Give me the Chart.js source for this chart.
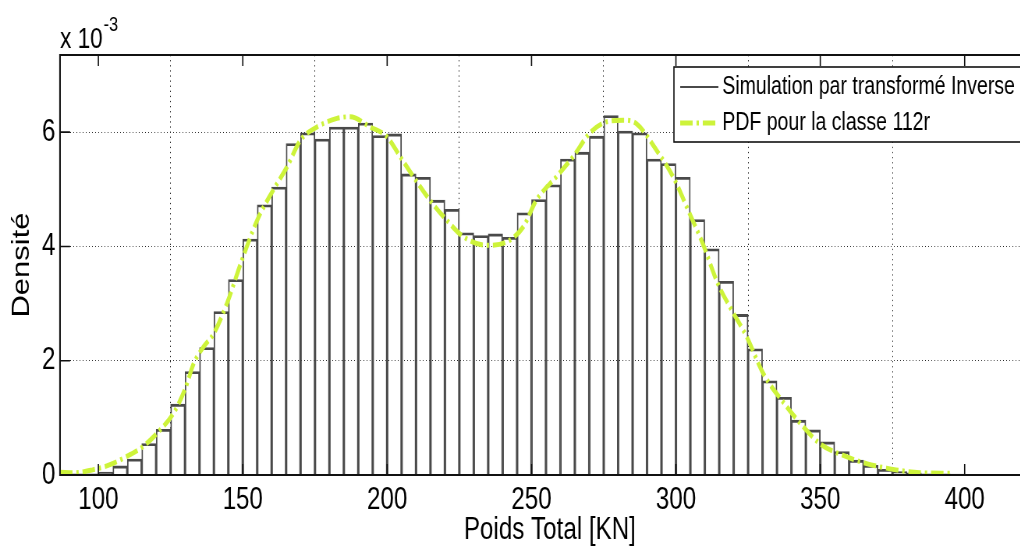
<!DOCTYPE html>
<html>
<head>
<meta charset="utf-8">
<script src="https://cdn.jsdelivr.net/npm/chart.js@4/dist/chart.umd.min.js"></script>
<style>
  html, body { margin: 0; padding: 0; background: #fff; overflow: hidden; }
  /* figure is drawn on a wider canvas, then squeezed horizontally */
  #wrap { width: 1345px; height: 554px; transform: scaleX(0.78); transform-origin: 0 0; }
</style>
</head>
<body>
<div id="wrap"><canvas id="histChart" width="1345" height="554"></canvas></div>
<script>
// histogram bins (centre of each 5 kN class) and simulated density, in units of 1e-3
const binCenters = [
  87.5, 92.5, 97.5, 102.5, 107.5, 112.5, 117.5, 122.5, 127.5, 132.5,
  137.5, 142.5, 147.5, 152.5, 157.5, 162.5, 167.5, 172.5, 177.5, 182.5,
  187.5, 192.5, 197.5, 202.5, 207.5, 212.5, 217.5, 222.5, 227.5, 232.5,
  237.5, 242.5, 247.5, 252.5, 257.5, 262.5, 267.5, 272.5, 277.5, 282.5,
  287.5, 292.5, 297.5, 302.5, 307.5, 312.5, 317.5, 322.5, 327.5, 332.5,
  337.5, 342.5, 347.5, 352.5, 357.5, 362.5, 367.5, 372.5, 377.5, 382.5,
  387.5, 392.5, 397.5, 402.5, 407.5, 412.5, 417.5, 422.5
];
const simDensity = [
  0.01, 0.02, 0.02, 0.05, 0.16, 0.28, 0.55, 0.80, 1.24, 1.81,
  2.23, 2.86, 3.42, 4.13, 4.73, 5.04, 5.80, 5.99, 5.88, 6.09,
  6.09, 6.16, 5.94, 5.97, 5.27, 5.21, 4.81, 4.65, 4.24, 4.19,
  4.22, 4.16, 4.59, 4.82, 5.08, 5.53, 5.65, 5.93, 6.29, 6.02,
  5.99, 5.53, 5.45, 5.21, 4.47, 3.96, 3.39, 2.81, 2.21, 1.65,
  1.36, 0.96, 0.79, 0.58, 0.41, 0.26, 0.17, 0.10, 0.06, 0.04,
  0.02, 0.02, 0.015, 0.01, 0.01, 0.005, 0.01, 0.01
];

// theoretical pdf of class 112r (x in kN, density in 1e-3)
const pdfX = [
  86.7, 92, 98, 104, 110, 115.5, 121.4, 126, 130, 133,
  136.5, 140, 144.5, 149.7, 155, 160.6, 165.3, 170, 175.7, 182.6,
  187.2, 194.1, 199.9, 204.5, 209.1, 214.8, 220.6, 226.4, 234.4, 241.4,
  247.1, 251.7, 258.6, 264.4, 270.1, 275.9, 281.7, 286.3, 293.2, 299,
  304.7, 309.3, 314.5, 318.7, 324.5, 330.2, 338.3, 344, 349.8, 359.1,
  366, 372.9, 384.4, 395
];
const pdfY = [
  0.05, 0.04, 0.09, 0.18, 0.33, 0.50, 0.79, 1.08, 1.50, 1.95,
  2.25, 2.48, 3.00, 3.76, 4.46, 4.99, 5.39, 5.86, 6.09, 6.24,
  6.27, 6.09, 5.92, 5.57, 5.22, 4.81, 4.46, 4.17, 4.02, 4.08,
  4.34, 4.81, 5.22, 5.57, 5.98, 6.18, 6.21, 6.15, 5.69, 5.22,
  4.58, 4.05, 3.35, 2.94, 2.42, 1.78, 1.20, 0.85, 0.55, 0.32,
  0.20, 0.12, 0.04, 0.03
];

const xTicks = [100, 150, 200, 250, 300, 350, 400];
const yTicks = [0, 2, 4, 6];

const FONT = 'Liberation Sans, Arial, Helvetica, sans-serif';
const PDF_COLOR = '#cdf33a';
const BAR_COLOR = '#4a4a4a';
const PDF_DASH = [16, 5, 3, 5];

// box, inward ticks, exponent and legend (MATLAB style)
const matlabFrame = {
  id: 'matlabFrame',
  afterDatasetsDraw(chart) {
    const { ctx, chartArea: a, scales: { x, y } } = chart;
    ctx.save();
    ctx.strokeStyle = '#111';
    ctx.lineWidth = 1.6;
    ctx.beginPath();
    xTicks.forEach(v => {
      const px = x.getPixelForValue(v);
      ctx.moveTo(px, a.bottom); ctx.lineTo(px, a.bottom - 11);
      ctx.moveTo(px, a.top); ctx.lineTo(px, a.top + 11);
    });
    yTicks.forEach(v => {
      const py = y.getPixelForValue(v);
      ctx.moveTo(a.left, py); ctx.lineTo(a.left + 13, py);
      ctx.moveTo(a.right, py); ctx.lineTo(a.right - 13, py);
    });
    ctx.stroke();
    ctx.lineWidth = 2;
    ctx.strokeRect(a.left, a.top, a.right - a.left, a.bottom - a.top);

    // scale factor above the y axis
    ctx.fillStyle = '#000';
    ctx.textBaseline = 'alphabetic';
    ctx.textAlign = 'left';
    ctx.font = '29px ' + FONT;
    ctx.fillText('x 10', a.left, 48);
    const w = ctx.measureText('x 10').width;
    ctx.font = '21px ' + FONT;
    ctx.fillText('-3', a.left + w + 1, 31);

    // legend, tucked into the upper right corner
    const lx = 864, ly = 67, lw = a.right - 15 - lx, lh = 75;
    ctx.fillStyle = '#fff';
    ctx.fillRect(lx, ly, lw, lh);
    ctx.lineWidth = 1.6;
    ctx.strokeStyle = '#111';
    ctx.strokeRect(lx, ly, lw, lh);
    const ds = chart.data.datasets;
    const rows = [
      { label: ds[0].label, color: BAR_COLOR, width: 1.8, dash: [], y: 87 },
      { label: ds[1].label, color: PDF_COLOR, width: 5, dash: PDF_DASH, y: 123 }
    ];
    rows.forEach(r => {
      ctx.beginPath();
      ctx.strokeStyle = r.color;
      ctx.lineWidth = r.width;
      ctx.setLineDash(r.dash);
      ctx.moveTo(872, r.y);
      ctx.lineTo(921, r.y);
      ctx.stroke();
      ctx.setLineDash([]);
      ctx.fillStyle = '#000';
      ctx.font = '25px ' + FONT;
      ctx.textBaseline = 'middle';
      ctx.fillText(r.label, 926, r.y);
    });
    ctx.restore();
  }
};

const ctx = document.getElementById('histChart').getContext('2d');
new Chart(ctx, {
  type: 'bar',
  data: {
    datasets: [{
      type: 'bar',
      label: 'Simulation par transformé Inverse',
      data: binCenters.map((c, i) => ({ x: c, y: simDensity[i] })),
      backgroundColor: 'rgba(255,255,255,0)',
      borderColor: BAR_COLOR,
      borderWidth: { top: 2.2, left: 1.2, right: 1.2, bottom: 0 },
      barPercentage: 1,
      categoryPercentage: 1,
      order: 2
    }, {
      type: 'line',
      label: 'PDF pour la classe 112r',
      data: pdfX.map((v, i) => ({ x: v, y: pdfY[i] })),
      borderColor: PDF_COLOR,
      borderWidth: 5,
      borderDash: PDF_DASH,
      pointRadius: 0,
      fill: false,
      cubicInterpolationMode: 'monotone',
      order: 1
    }]
  },
  options: {
    responsive: false,
    animation: false,
    layout: { padding: { top: 55, right: 12, bottom: 0, left: 0 } },
    plugins: {
      legend: { display: false },
      tooltip: { enabled: false }
    },
    scales: {
      x: {
        type: 'linear',
        min: 86.7,
        max: 426,
        offset: false,
        afterBuildTicks: s => { s.ticks = xTicks.map(v => ({ value: v })); },
        afterFit: s => { s.height = 79; },
        grid: { color: '#222', lineWidth: 1, drawTicks: false },
        border: { color: '#111', width: 2, dash: [1.3, 3.8] },
        ticks: { color: '#000', padding: 7, maxRotation: 0, font: { family: FONT, size: 31 } },
        title: {
          display: true, text: 'Poids Total [KN]', color: '#000',
          font: { family: FONT, size: 31 }, padding: { top: 0, bottom: 5 }
        }
      },
      y: {
        min: 0,
        max: 7.35,
        afterBuildTicks: s => { s.ticks = yTicks.map(v => ({ value: v })); },
        afterFit: s => { s.width = 76.9; },
        grid: { color: '#222', lineWidth: 1, drawTicks: false },
        border: { color: '#111', width: 2, dash: [1, 3] },
        ticks: { color: '#000', padding: 6, font: { family: FONT, size: 31 } },
        title: {
          display: true, text: 'Densité', color: '#000',
          font: { family: FONT, size: 31 }, padding: { top: 10, bottom: 0 }
        }
      }
    }
  },
  plugins: [matlabFrame]
});
</script>
</body>
</html>
